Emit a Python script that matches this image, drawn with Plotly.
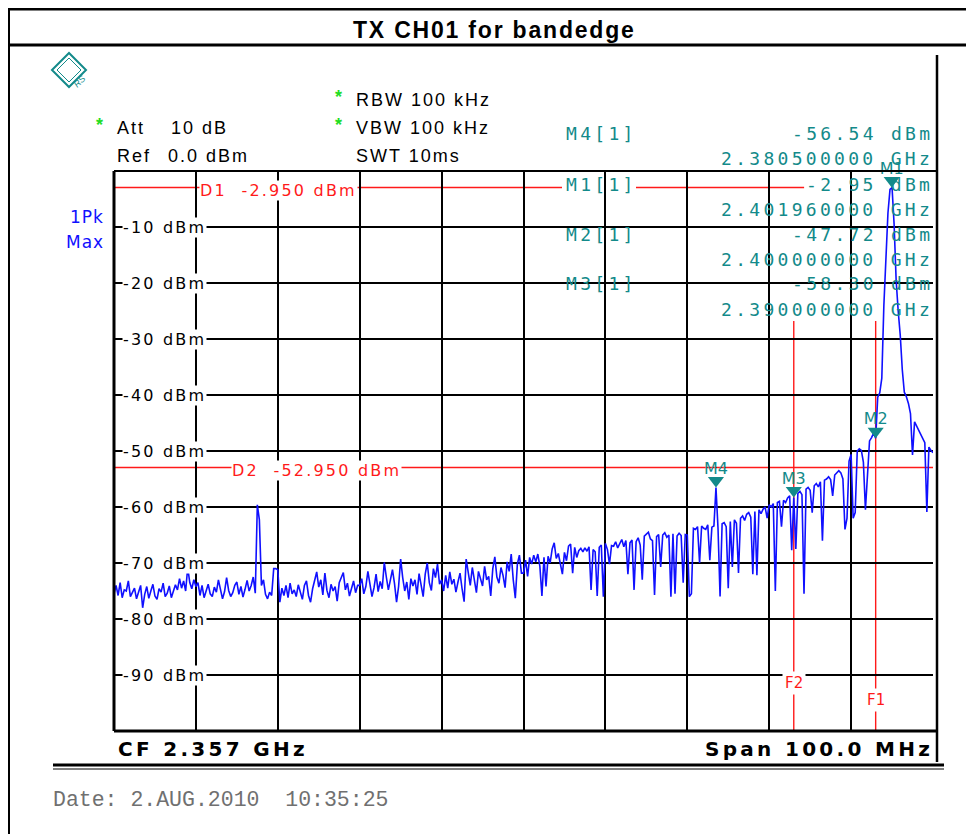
import plotly.graph_objects as go

# ---------------- data ----------------
F_START_GHZ = 2.307          # start of sweep (CF 2.357 GHz, span 100 MHz)
F_STOP_GHZ = 2.407
STEP_MHZ = 0.25              # one trace value every 0.25 MHz

# trace level in dBm, 10 MHz per list
lvl_00_10 = [-75.5, -74.0, -75.8, -73.5, -76.2, -74.8, -75.0, -73.2, -76.0, -75.3,
             -74.5, -76.4, -75.1, -74.0, -78.0, -75.6, -74.2, -76.3, -75.0, -73.8,
             -75.9, -76.5, -74.6, -75.2, -73.6, -76.0, -75.4, -74.1, -76.2, -75.0,
             -73.9, -74.8, -72.8, -74.5, -73.2, -75.0, -70.8, -73.5, -74.6, -73.0]
lvl_10_20 = [-74.2, -73.5, -75.8, -74.0, -76.2, -75.0, -73.8, -75.5, -76.0, -74.3,
             -75.2, -73.0, -74.8, -76.4, -75.1, -72.6, -74.9, -76.0, -75.3, -74.0,
             -73.4, -75.6, -74.2, -76.1, -74.7, -73.1, -75.0, -74.0, -72.5, -75.4,
             -59.6, -62.3, -74.0, -73.0, -75.6, -76.4, -75.2, -75.8, -71.0, -71.0]
lvl_20_30 = [-71.2, -77.0, -74.5, -75.8, -74.0, -76.2, -73.6, -75.5, -74.8, -76.0,
             -73.9, -75.2, -76.5, -74.0, -73.2, -75.8, -77.0, -74.6, -72.9, -71.6,
             -74.3, -73.0, -75.7, -71.8, -74.9, -76.2, -73.8, -75.0, -74.2, -76.8,
             -73.5, -72.4, -71.7, -74.8, -73.6, -75.9, -74.5, -73.2, -75.3, -74.0]
lvl_30_40 = [-74.0, -72.8, -75.5, -74.2, -71.5, -73.6, -76.0, -74.4, -72.0, -75.1,
             -73.3, -74.6, -69.9, -72.5, -74.8, -73.0, -71.2, -73.7, -77.0, -74.2,
             -69.3, -72.6, -75.0, -73.4, -76.5, -72.8, -74.1, -73.0, -75.6, -71.9,
             -74.3, -76.0, -72.0, -70.0, -73.5, -74.9, -71.0, -72.6, -70.2, -73.8]
lvl_40_50 = [-73.0, -75.0, -72.2, -74.5, -71.6, -73.8, -72.9, -75.2, -73.4, -71.8,
             -74.6, -76.9, -69.3, -72.0, -74.0, -70.8, -73.2, -75.3, -71.5, -72.7,
             -74.1, -70.6, -73.0, -72.4, -75.9, -71.0, -68.9, -72.5, -73.6, -70.8,
             -72.2, -74.4, -69.8, -71.5, -68.4, -73.0, -76.3, -70.2, -68.6, -71.8]
lvl_50_60 = [-71.8, -69.5, -72.4, -69.0, -70.2, -68.6, -69.8, -68.4, -70.6, -75.9,
             -69.0, -74.2, -68.8, -70.0, -67.5, -66.4, -69.2, -68.3, -70.3, -72.0,
             -68.1, -69.6, -67.0, -66.6, -71.8, -67.2, -69.0, -67.8, -67.4, -68.0,
             -67.3, -67.9, -67.1, -74.8, -67.6, -68.0, -75.9, -67.2, -66.8, -76.0]
lvl_60_70 = [-66.5, -67.6, -70.2, -66.9, -67.0, -66.2, -67.3, -66.5, -65.8, -67.1,
             -66.0, -72.0, -66.4, -65.9, -74.8, -66.2, -65.5, -66.8, -73.0, -65.2,
             -64.8, -64.5, -65.7, -66.0, -75.7, -65.3, -64.9, -70.7, -65.0, -64.6,
             -65.4, -65.0, -76.0, -64.8, -75.5, -65.2, -64.7, -65.1, -73.5, -64.9]
lvl_70_80 = [-65.0, -76.0, -75.5, -63.8, -64.0, -63.5, -70.0, -63.4, -63.8, -64.0,
             -63.2, -69.5, -63.6, -63.4, -56.54, -63.8, -76.0, -63.0, -62.8, -63.5,
             -74.5, -62.6, -70.7, -62.3, -62.9, -71.8, -62.0, -61.6, -62.4, -61.3,
             -61.0, -61.8, -72.0, -60.8, -72.2, -60.5, -61.2, -60.4, -60.0, -62.0]
lvl_80_90 = [-59.6, -60.0, -59.4, -75.0, -59.2, -59.0, -63.5, -58.8, -59.2, -58.4,
             -58.0, -67.7, -58.30, -67.5, -57.6, -57.2, -57.8, -75.5, -56.8, -56.5,
             -57.0, -61.0, -56.2, -55.8, -56.4, -55.5, -66.0, -55.2, -55.0, -54.6,
             -55.1, -58.0, -54.3, -53.8, -53.5, -53.9, -55.0, -64.0, -62.0, -51.8]
lvl_90_100 = [-50.6, -62.0, -61.0, -50.0, -49.6, -49.9, -52.0, -60.5, -53.0, -48.2,
              -47.6, -46.8, -47.72, -40.4, -39.6, -37.0, -24.0, -15.8, -7.5, -3.3,
              -2.95, -9.5, -19.5, -25.0, -29.3, -35.5, -39.5, -40.3, -41.5, -43.3,
              -50.7, -44.8, -45.5, -46.3, -46.9, -47.6, -48.5, -60.9, -49.3, -49.9,
              -50.3]

levels = (lvl_00_10 + lvl_10_20 + lvl_20_30 + lvl_30_40 + lvl_40_50 +
          lvl_50_60 + lvl_60_70 + lvl_70_80 + lvl_80_90 + lvl_90_100)
freqs = [F_START_GHZ + i * STEP_MHZ / 1000.0 for i in range(len(levels))]

marker_names = ["M1", "M2", "M3", "M4"]
marker_freq = [2.40196, 2.400, 2.390, 2.3805]
marker_level = [-2.95, -47.72, -58.30, -56.54]
table_order = ["M4", "M1", "M2", "M3"]

d_names = ["D1", "D2"]
d_levels = [-2.95, -52.95]
f_names = ["F1", "F2"]
f_freqs = [2.400, 2.390]

y_ticks = [-10, -20, -30, -40, -50, -60, -70, -80, -90]
y_tick_labels = ["%d dBm" % v for v in y_ticks]

title = "TX CH01 for bandedge"
cf_text = "CF 2.357 GHz"
span_text = "Span 100.0 MHz"
date_text = "Date: 2.AUG.2010  10:35:25"

# ---------------- styling / layout helpers ----------------
W, H = 974, 834
OFF = 8                                  # page margin of the browser body
PL, PR, PT, PB = 114, 933, 171, 731     # plot area, screenshot pixels
TEAL = "#138a8a"
RED = "#ff1a1a"
BLUE = "#1010ff"
GREEN = "#22dd22"
F_LBL = "DejaVu Sans"
F_MONO = "DejaVu Sans Mono"
F_HDR = "Liberation Sans"


def px(X):
    return (X - PL) / (PR - PL)


def py(Y):
    return (PB - Y) / (PB - PT)


def sp(text, ls):
    return '<span style="letter-spacing:%spx">%s</span>' % (ls, text)


shapes = []
annotations = []


def line(X0, Y0, X1, Y1, w=1, color="black", layer="above"):
    shapes.append(dict(type="line", xref="paper", yref="paper",
                       x0=px(X0), y0=py(Y0), x1=px(X1), y1=py(Y1),
                       line=dict(color=color, width=w), layer=layer))


def rect(X0, Y0, X1, Y1, fill="white", layer="between"):
    shapes.append(dict(type="rect", xref="paper", yref="paper",
                       x0=px(X0), y0=py(Y0), x1=px(X1), y1=py(Y1),
                       line=dict(width=0), fillcolor=fill, layer=layer))


def ann(text, X, Y, anchor="left", size=16, color="black", family=F_LBL,
        bg=None, weight="normal"):
    d = dict(text=text, xref="paper", yref="paper", x=px(X), y=py(Y),
             xanchor=anchor, yanchor="middle", showarrow=False,
             font=dict(size=size, color=color, family=family, weight=weight),
             borderpad=0)
    if bg:
        d["bgcolor"] = bg
    annotations.append(d)


# marker table area hides the grid
rect(556, PT, PR, 321)

# display lines D1/D2 (behind the table texts)
for name, lv in zip(d_names, d_levels):
    shapes.append(dict(type="line", xref="paper", yref="y", x0=0, x1=1,
                       y0=lv, y1=lv, line=dict(color=RED, width=1.4),
                       layer="between"))
# frequency lines F1/F2 below the marker table
for name, f in zip(f_names, f_freqs):
    shapes.append(dict(type="line", xref="x", yref="paper", x0=f, x1=f,
                       y0=0, y1=py(321), line=dict(color=RED, width=1.4),
                       layer="between"))

# marker table
row_y = [133, 158, 184, 209, 234, 259, 283, 309]
CW = 14.1
for k, nm in enumerate(table_order):
    i = marker_names.index(nm)
    lvl_s = "%.2f dBm" % marker_level[i]
    frq_s = "%.9f GHz" % marker_freq[i]
    y1, y2 = row_y[2 * k], row_y[2 * k + 1]
    rect(562, y1 - 11.5, 636, y1 + 11.5)
    rect(933 - CW * len(lvl_s) - 2, y1 - 11.5, 933, y1 + 11.5)
    rect(933 - CW * len(frq_s) - 2, y2 - 11.5, 933, y2 + 11.5)
    ann(sp(nm + "[1]", 3.3), 565, y1, "left", 18, TEAL, F_MONO)
    ann(sp(lvl_s, 3.3), 934, y1, "right", 18, TEAL, F_MONO)
    ann(sp(frq_s, 3.3), 934, y2, "right", 18, TEAL, F_MONO)

# y tick labels inside the plot
for v, t in zip(y_ticks, y_tick_labels):
    annotations.append(dict(text=sp(t, 2.2), xref="paper", yref="y",
                            x=px(122), y=v, xanchor="left", yanchor="middle",
                            showarrow=False, bgcolor="white", borderpad=0,
                            font=dict(size=16, color="black", family=F_LBL)))

# D labels
annotations.append(dict(text=sp("D1  %.3f dBm" % d_levels[0], 2.2), xref="paper",
                        yref="y", x=px(199), y=d_levels[0], xanchor="left",
                        yanchor="middle", yshift=-3, showarrow=False,
                        bgcolor="white", borderpad=0,
                        font=dict(size=16, color=RED, family=F_LBL)))
annotations.append(dict(text=sp("D2  %.3f dBm" % d_levels[1], 2.2), xref="paper",
                        yref="y", x=px(231), y=d_levels[1], xanchor="left",
                        yanchor="middle", yshift=-3, showarrow=False,
                        bgcolor="white", borderpad=0,
                        font=dict(size=16, color=RED, family=F_LBL)))
# F labels
for f, name, Y in zip(f_freqs, f_names, [700, 683]):
    annotations.append(dict(text=name, xref="x", yref="paper", x=f, y=py(Y),
                            xanchor="center", yanchor="middle", showarrow=False,
                            bgcolor="white", borderpad=2,
                            font=dict(size=15, color=RED, family=F_LBL)))

# header texts
ann(sp(title, 1.8), 494, 30, "center", 23, "black", F_HDR, weight="bold")
ann("*", 334, 97, "left", 18, GREEN, F_HDR, weight="bold")
ann(sp("RBW 100 kHz", 2.0), 355, 100, "left", 18, "black", F_HDR)
ann("*", 334, 125, "left", 18, GREEN, F_HDR, weight="bold")
ann(sp("VBW 100 kHz", 2.0), 355, 128, "left", 18, "black", F_HDR)
ann(sp("SWT 10ms", 2.0), 355, 156, "left", 18, "black", F_HDR)
ann("*", 95, 125, "left", 18, GREEN, F_HDR, weight="bold")
ann(sp("Att", 2.0), 116, 128, "left", 18, "black", F_HDR)
ann(sp("10 dB", 2.0), 170, 128, "left", 18, "black", F_HDR)
ann(sp("Ref", 2.0), 116, 156, "left", 18, "black", F_HDR)
ann(sp("0.0 dBm", 2.0), 167, 156, "left", 18, "black", F_HDR)
ann(sp("1Pk", 1.0), 105, 217, "right", 17, BLUE, F_LBL)
ann(sp("Max", 1.0), 105, 242, "right", 17, BLUE, F_LBL)

# footer texts
ann(sp(cf_text, 3.3), 117, 749, "left", 20, "black", F_LBL, weight="bold")
ann(sp(span_text, 3.3), 934, 749, "right", 20, "black", F_LBL, weight="bold")
ann(date_text, 52, 800, "left", 21.5, "#707070", "Liberation Mono")

# R&S logo
shapes.append(dict(type="path", xref="paper", yref="paper",
                   path="M %f,%f L %f,%f L %f,%f L %f,%f Z" % (
                       px(52), py(70), px(69), py(53), px(86), py(70), px(69), py(87)),
                   line=dict(color=TEAL, width=2), fillcolor="rgba(0,0,0,0)",
                   layer="above"))
shapes.append(dict(type="path", xref="paper", yref="paper",
                   path="M %f,%f L %f,%f L %f,%f L %f,%f Z" % (
                       px(57), py(70), px(69), py(58), px(81), py(70), px(69), py(82)),
                   line=dict(color=TEAL, width=1), fillcolor="rgba(0,0,0,0)",
                   layer="above"))
annotations.append(dict(text="<i>RS</i>", xref="paper", yref="paper", x=px(69),
                        y=py(70), showarrow=False, textangle=-45,
                        font=dict(size=9, color=TEAL, family=F_HDR)))

# frame and outer lines
line(8, 9, W, 9, 3)
line(8, 45, W, 45, 3)
line(9, 9, 9, H, 2)
line(PL, PT, PL, PB, 3)
line(PL, PT, 937, PT, 2)
line(PL, PB, 937, PB, 3)
line(937, 55, 937, 762, 2.5)
line(53, 765, 944, 765, 3)
line(53, 769, 944, 769, 1)

# ---------------- figure ----------------
fig = go.Figure()
fig.add_trace(go.Scatter(x=freqs, y=levels, mode="lines",
                         line=dict(color=BLUE, width=1.6), hoverinfo="skip",
                         cliponaxis=True))
fig.add_trace(go.Scatter(x=marker_freq, y=marker_level, mode="markers+text",
                         text=marker_names, textposition="top center",
                         textfont=dict(size=16, color=TEAL, family=F_LBL),
                         marker=dict(symbol="triangle-up", angle=180, standoff=7,
                                     size=14, color=TEAL),
                         cliponaxis=False, hoverinfo="skip"))

fig.update_layout(
    width=W, height=H, autosize=False,
    margin=dict(l=PL - OFF, r=W - (PR - OFF), t=PT - OFF, b=H - (PB - OFF), pad=0),
    paper_bgcolor="white", plot_bgcolor="white",
    showlegend=False,
    shapes=shapes, annotations=annotations,
    xaxis=dict(range=[F_START_GHZ, F_STOP_GHZ], tick0=F_START_GHZ, dtick=0.01,
               showgrid=True, gridcolor="black", gridwidth=1.5,
               showticklabels=False, ticks="", zeroline=False, showline=False,
               fixedrange=True),
    yaxis=dict(range=[-100, 0], tick0=0, dtick=10,
               showgrid=True, gridcolor="black", gridwidth=1.5,
               showticklabels=False, ticks="", zeroline=False, showline=False,
               fixedrange=True),
)

fig.write_html("out.html")
